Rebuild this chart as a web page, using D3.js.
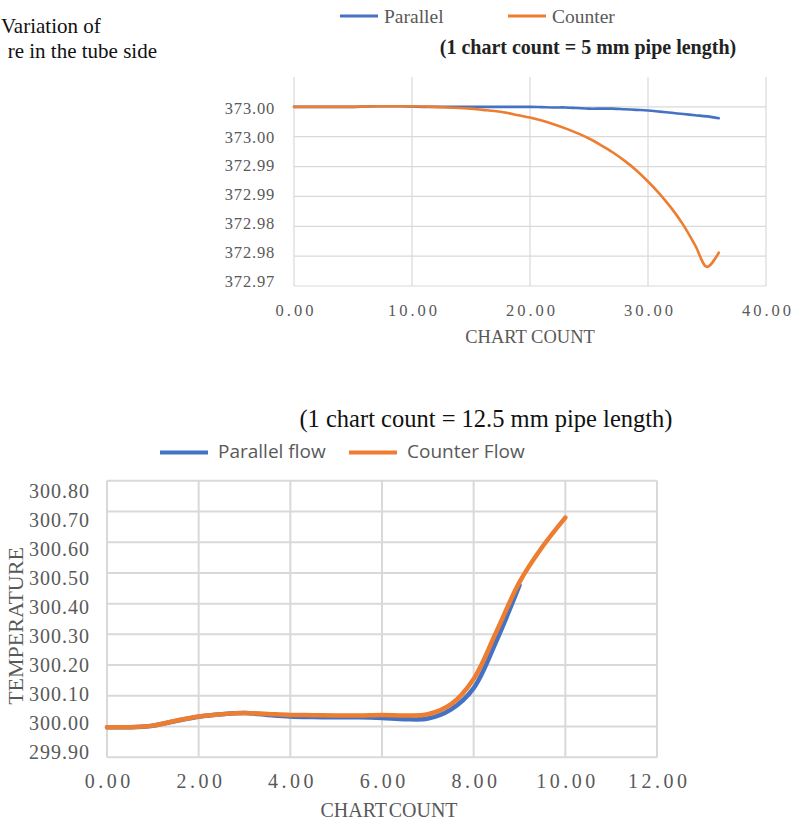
<!DOCTYPE html>
<html>
<head>
<meta charset="utf-8">
<script src="https://cdn.jsdelivr.net/npm/d3@7"></script>
<style>
  body { margin: 0; background: #fff; }
  svg { display: block; }
</style>
</head>
<body>
<svg id="fig" width="795" height="823"></svg>
<script>
// ---------- upper chart: tube-side temperature, 1 chart count = 5 mm ----------
const countsTop = d3.range(0, 37);
const parallelTop = [
  373.0000, 373.0000, 373.0000, 373.0000, 373.0000, 373.0000, 373.00005, 373.0001, 373.0001, 373.0001,
  373.00005, 373.0000, 373.0000, 373.0000, 373.0000, 373.0000, 373.0000, 373.0000, 373.0000, 373.0000,
  373.0000, 372.99995, 372.9999, 372.9999, 372.9998, 372.9997, 372.9997, 372.9997, 372.9996, 372.9995,
  372.9994, 372.9992, 372.9990, 372.9988, 372.9986, 372.9984, 372.9981
];
const counterTop = [
  373.0000, 373.0000, 373.0000, 373.0000, 373.0000, 373.0000, 373.00005, 373.0001, 373.0001, 373.0001,
  373.0001, 373.00005, 373.0000, 372.9999, 372.9998, 372.9997, 372.9995, 372.9993, 372.9990, 372.9986,
  372.9982, 372.9977, 372.9971, 372.9964, 372.9956, 372.9947, 372.9936, 372.9924, 372.9910, 372.9894,
  372.9875, 372.9854, 372.9830, 372.9802, 372.9768, 372.9732, 372.9756
];
const yTicksTop = [372.970, 372.975, 372.980, 372.985, 372.990, 372.995, 373.000];
const yLabelsTop = ["372.97", "372.98", "372.98", "372.99", "372.99", "373.00", "373.00"];
const xTicksTop = [0, 10, 20, 30, 40];

// ---------- lower chart: 1 chart count = 12.5 mm ----------
const countsBot = [0, 0.5, 1, 1.5, 2, 2.5, 3, 3.5, 4, 4.5, 5, 5.5, 6, 6.5, 7, 7.5, 8, 8.5, 9, 9.5, 10];
const parallelBot = [
  299.998, 299.998, 300.003, 300.018, 300.032, 300.040, 300.044, 300.038, 300.033, 300.031,
  300.030, 300.030, 300.028, 300.024, 300.026, 300.055, 300.125, 300.280, 300.460
];
const counterBot = [
  299.998, 299.998, 300.003, 300.019, 300.033, 300.040, 300.044, 300.041, 300.038, 300.037,
  300.036, 300.036, 300.038, 300.036, 300.040, 300.072, 300.155, 300.310, 300.470, 300.585,
  300.680
];
const yTicksBot = [299.9, 300.0, 300.1, 300.2, 300.3, 300.4, 300.5, 300.6, 300.7, 300.8];
const xTicksBot = [0, 2, 4, 6, 8, 10, 12];

const BLUE = "#4472c4", ORANGE = "#ed7d31", GRID = "#d9d9d9", TXT = "#595959";
const SERIF = "'Liberation Serif', 'Times New Roman', serif";
const SANS = "'Open Sans', 'Noto Sans', sans-serif";

const svg = d3.select("#fig");
svg.append("rect").attr("width", 795).attr("height", 823).attr("fill", "#fff");

// caption fragment at the upper left
svg.append("text").attr("x", 1).attr("y", 33)
  .attr("font-family", SERIF).attr("font-size", 21).attr("fill", "#111").text("Variation of");
svg.append("text").attr("x", 157).attr("y", 58).attr("text-anchor", "end")
  .attr("font-family", SERIF).attr("font-size", 21).attr("fill", "#111").text("re in the tube side");

// ================= upper chart =================
const xT = d3.scaleLinear([0, 40], [294, 766]);
const yT = d3.scaleLinear([372.970, 373.005], [286, 77]);
const yTLab = d3.scaleLinear([372.970, 373.000], [281, 108]);

const gT = svg.append("g");
gT.selectAll("line.h").data(yTicksTop).join("line")
  .attr("x1", xT(0)).attr("x2", xT(40))
  .attr("y1", d => yT(d)).attr("y2", d => yT(d))
  .attr("stroke", GRID).attr("stroke-width", 1.2);
gT.selectAll("line.v").data(xTicksTop).join("line")
  .attr("x1", d => xT(d)).attr("x2", d => xT(d))
  .attr("y1", yT(373.005)).attr("y2", yT(372.970))
  .attr("stroke", GRID).attr("stroke-width", 1.2);

const axTY = gT.append("g").attr("transform", `translate(${xT(0) - 16},0)`)
  .call(d3.axisLeft(yTLab).tickValues(yTicksTop).tickSize(0)
    .tickFormat((d, i) => yLabelsTop[i]));
axTY.select(".domain").remove();
axTY.selectAll("text").attr("font-family", SERIF).attr("font-size", 16.5)
  .attr("letter-spacing", 0.8).attr("fill", TXT);

const axTX = gT.append("g").attr("transform", `translate(0,${yT(372.970) + 15})`)
  .call(d3.axisBottom(xT).tickValues(xTicksTop).tickSize(0).tickFormat(d3.format(".2f")));
axTX.select(".domain").remove();
axTX.selectAll("text").attr("font-family", SERIF).attr("font-size", 16.5)
  .attr("letter-spacing", 3).attr("fill", TXT).attr("dx", 1.5);

gT.append("text").attr("x", xT(20)).attr("y", 343).attr("text-anchor", "middle")
  .attr("font-family", SERIF).attr("font-size", 18.5).attr("fill", TXT).text("CHART COUNT");

const lineT = (vals) => d3.line()
  .x((d, i) => xT(countsTop[i])).y(d => yT(d))
  .curve(d3.curveCatmullRom.alpha(0.5))(vals);
gT.append("path").attr("d", lineT(parallelTop)).attr("fill", "none")
  .attr("stroke", BLUE).attr("stroke-width", 2.6).attr("stroke-linecap", "round");
gT.append("path").attr("d", lineT(counterTop)).attr("fill", "none")
  .attr("stroke", ORANGE).attr("stroke-width", 2.6).attr("stroke-linecap", "round");

// legend + note
const legT = [{ name: "Parallel", color: BLUE, x: 340 }, { name: "Counter", color: ORANGE, x: 508 }];
legT.forEach(l => {
  svg.append("line").attr("x1", l.x).attr("x2", l.x + 38).attr("y1", 16).attr("y2", 16)
    .attr("stroke", l.color).attr("stroke-width", 3);
  svg.append("text").attr("x", l.x + 44).attr("y", 22.5).attr("font-family", SERIF)
    .attr("font-size", 19.5).attr("fill", TXT).text(l.name);
});
svg.append("text").attr("x", 588).attr("y", 54).attr("text-anchor", "middle")
  .attr("font-family", SERIF).attr("font-weight", "bold").attr("font-size", 20)
  .attr("fill", "#222").text("(1 chart count = 5 mm pipe length)");

// ================= lower chart =================
const xB = d3.scaleLinear([0, 12], [107, 657]);
const yB = d3.scaleLinear([299.9, 300.8], [757.3, 480.7]);
const yBLab = d3.scaleLinear([299.9, 300.8], [752.5, 490.7]);

const gB = svg.append("g");
gB.selectAll("line.h").data(yTicksBot).join("line")
  .attr("x1", xB(0)).attr("x2", xB(12))
  .attr("y1", d => yB(d)).attr("y2", d => yB(d))
  .attr("stroke", GRID).attr("stroke-width", 2);
gB.selectAll("line.v").data(xTicksBot).join("line")
  .attr("x1", d => xB(d)).attr("x2", d => xB(d))
  .attr("y1", yB(300.8)).attr("y2", yB(299.9))
  .attr("stroke", GRID).attr("stroke-width", 2);

const axBY = gB.append("g").attr("transform", `translate(${xB(0) - 14},0)`)
  .call(d3.axisLeft(yBLab).tickValues(yTicksBot).tickSize(0).tickFormat(d3.format(".2f")));
axBY.select(".domain").remove();
axBY.selectAll("text").attr("font-family", SERIF).attr("font-size", 20)
  .attr("letter-spacing", 1).attr("fill", TXT);

const axBX = gB.append("g").attr("transform", `translate(0,${yB(299.9) + 13})`)
  .call(d3.axisBottom(xB).tickValues(xTicksBot).tickSize(0).tickFormat(d3.format(".2f")));
axBX.select(".domain").remove();
axBX.selectAll("text").attr("font-family", SERIF).attr("font-size", 20)
  .attr("letter-spacing", 3.5).attr("fill", TXT).attr("dx", 1.75);

gB.append("text").attr("x", 389).attr("y", 817).attr("text-anchor", "middle")
  .attr("font-family", SERIF).attr("font-size", 20).attr("word-spacing", -3)
  .attr("fill", TXT).text("CHART COUNT");
gB.append("text").attr("transform", "translate(23,626) rotate(-90)")
  .attr("text-anchor", "middle").attr("font-family", SERIF).attr("font-size", 22)
  .attr("fill", TXT).text("TEMPERATURE");

const lineB = (vals) => d3.line()
  .x((d, i) => xB(countsBot[i])).y(d => yB(d))
  .curve(d3.curveCatmullRom.alpha(0.5))(vals);
gB.append("path").attr("d", lineB(parallelBot)).attr("fill", "none")
  .attr("stroke", BLUE).attr("stroke-width", 4.5).attr("stroke-linecap", "round");
gB.append("path").attr("d", lineB(counterBot)).attr("fill", "none")
  .attr("stroke", ORANGE).attr("stroke-width", 4.5).attr("stroke-linecap", "round");

// legend + note
const legB = [{ name: "Parallel flow", color: BLUE, x: 160 }, { name: "Counter Flow", color: ORANGE, x: 349 }];
legB.forEach(l => {
  svg.append("line").attr("x1", l.x).attr("x2", l.x + 48).attr("y1", 452.5).attr("y2", 452.5)
    .attr("stroke", l.color).attr("stroke-width", 4);
  svg.append("text").attr("x", l.x + 58).attr("y", 457.5).attr("font-family", SANS)
    .attr("font-size", 19).attr("fill", TXT).text(l.name);
});
svg.append("text").attr("x", 486).attr("y", 427).attr("text-anchor", "middle")
  .attr("font-family", SERIF).attr("font-size", 24.5)
  .attr("fill", "#111").text("(1 chart count = 12.5 mm pipe length)");
</script>
</body>
</html>
